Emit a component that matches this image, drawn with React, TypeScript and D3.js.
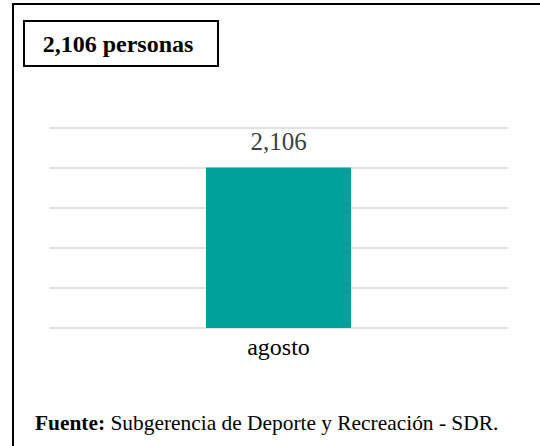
import { useRef, useEffect } from 'react';
import * as d3 from 'd3';

const categories = ['agosto'];
const values = [2106];
const gridTicks = [0, 525, 1050, 1575, 2100, 2625];
const titleText = '2,106 personas';
const sourceLabel = 'Fuente:';
const sourceText = ' Subgerencia de Deporte y Recreación - SDR.';

const W = 540;
const H = 446;
const FONT = '"Liberation Serif", "Times New Roman", Times, "DejaVu Serif", serif';

export default function App() {
    const svgRef = useRef<SVGSVGElement>(null);

    useEffect(() => {
        if (!svgRef.current) return;
        const svg = d3.select(svgRef.current);
        svg.selectAll('*').remove();

        svg.append('rect').attr('width', W).attr('height', H).attr('fill', '#fff');

        // outer frame (top + left only visible)
        svg.append('path')
            .attr('d', `M13,${H} L13,4 L${W},4`)
            .attr('fill', 'none')
            .attr('stroke', '#000')
            .attr('stroke-width', 2);

        // title box
        svg.append('rect')
            .attr('x', 24).attr('y', 21)
            .attr('width', 194).attr('height', 45)
            .attr('fill', '#fff')
            .attr('stroke', '#000')
            .attr('stroke-width', 2);
        svg.append('text')
            .attr('x', 118).attr('y', 52)
            .attr('text-anchor', 'middle')
            .attr('font-family', FONT)
            .attr('font-weight', 'bold')
            .attr('font-size', '24px')
            .attr('fill', '#000')
            .text(titleText);

        const x = d3.scaleBand().domain(categories).range([49, 508]).padding(0.52);
        const y = d3.scaleLinear().domain([0, 2625]).range([328, 128]);

        // gridlines
        svg.append('g')
            .selectAll('line')
            .data(gridTicks)
            .join('line')
            .attr('x1', 49).attr('x2', 508)
            .attr('y1', d => y(d)).attr('y2', d => y(d))
            .attr('stroke', '#d9d9d9')
            .attr('stroke-width', 1.5);

        // bars
        svg.append('g')
            .selectAll('rect')
            .data(values)
            .join('rect')
            .attr('x', (_, i) => x(categories[i])!)
            .attr('y', d => y(d))
            .attr('width', x.bandwidth())
            .attr('height', d => y(0) - y(d))
            .attr('fill', '#00a19a');

        // value labels
        svg.append('g')
            .selectAll('text')
            .data(values)
            .join('text')
            .attr('x', (_, i) => x(categories[i])! + x.bandwidth() / 2)
            .attr('y', d => y(d) - 18)
            .attr('text-anchor', 'middle')
            .attr('font-family', FONT)
            .attr('font-size', '25px')
            .attr('fill', '#404040')
            .text(d => d3.format(',')(d));

        // category labels
        svg.append('g')
            .selectAll('text')
            .data(categories)
            .join('text')
            .attr('x', d => x(d)! + x.bandwidth() / 2)
            .attr('y', 355)
            .attr('text-anchor', 'middle')
            .attr('font-family', FONT)
            .attr('font-size', '24px')
            .attr('fill', '#000')
            .text(d => d);

        // source
        const src = svg.append('text')
            .attr('x', 35).attr('y', 430)
            .attr('font-family', FONT)
            .attr('font-size', '21.4px')
            .attr('fill', '#000');
        src.append('tspan').attr('font-weight', 'bold').text(sourceLabel);
        src.append('tspan').text(sourceText);
    }, []);

    return (
        <div style={{ position: 'absolute', left: 0, top: 0 }}>
            <svg ref={svgRef} width={W} height={H} style={{ display: 'block' }} />
        </div>
    );
}
